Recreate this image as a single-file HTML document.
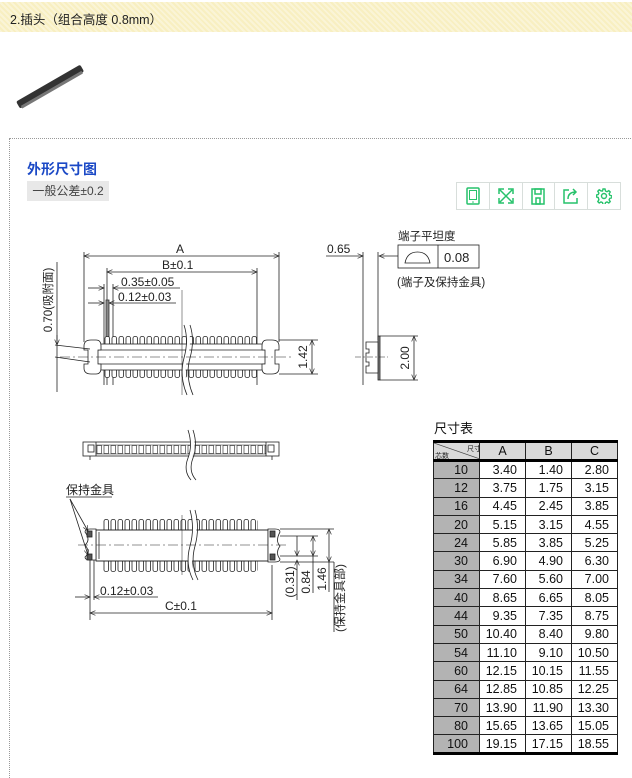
<!DOCTYPE html>
<html><head><meta charset="utf-8"><style>
*{margin:0;padding:0;box-sizing:border-box}
body{width:632px;height:761px;background:#fff;position:relative;overflow:hidden;font-family:"Liberation Sans","Noto Sans CJK SC",sans-serif}
.hdr{position:absolute;left:0;top:2px;width:632px;height:30px;background:#f8efc1;background-image:repeating-linear-gradient(45deg,rgba(255,255,255,.35) 0 2px,transparent 2px 4px)}
.hdr span{position:absolute;left:10px;top:7px;font-size:12.5px;color:#222}
.box{position:absolute;left:9px;top:138px;width:640px;height:640px;border-top:1px dotted #999;border-left:1px dotted #999}
.t1{position:absolute;left:27px;top:159px;font-size:14px;font-weight:bold;color:#1b49c6}
.tol{position:absolute;left:27px;top:181px;width:82px;height:20px;background:#e8e8e8;font-size:12px;color:#444;text-align:center;line-height:20px}
.icons{position:absolute;left:456px;top:182px;width:165px;height:28px;border:1px solid #d8dedb;display:flex}
.icons div{flex:1;border-right:1px solid #d8dedb;display:flex;align-items:center;justify-content:center}
.icons div:last-child{border-right:none}
.tt{position:absolute;left:434px;top:418px;font-size:13px;color:#111}
table{position:absolute;left:433px;top:440px;border-collapse:collapse;font-size:12.5px;font-family:"Liberation Sans","Noto Sans CJK SC",sans-serif}
td{height:18.3px;border:1px solid #222;text-align:right;padding-right:8px;width:46px;color:#111;line-height:16px}
td.k{background:#b3b3b3;width:46px;padding-right:11px}
tr.h td{background:#d9d9d9;text-align:center;padding:0;height:19px;border-top:3px solid #000;border-bottom:3px solid #000}
tr:last-child td{border-bottom:3px solid #000}
</style></head><body>
<div class="hdr"><span>2.插头（组合高度 0.8mm）</span></div>
<svg style="position:absolute;left:12px;top:62px" width="75" height="55"><g transform="rotate(-30 36 27)"><rect x="2" y="22" width="74" height="8" rx="2" fill="#333"/><rect x="4" y="28" width="70" height="3" fill="#777"/></g></svg>
<div class="box"></div>
<div class="t1">外形尺寸图</div>
<div class="tol">一般公差±0.2</div>
<div class="icons">
<div><svg width="14" height="18"><rect x="1" y="1" width="12" height="16" rx="1" fill="none" stroke="#27c26b" stroke-width="1.5"/><rect x="3.5" y="3.5" width="7" height="9" fill="none" stroke="#27c26b"/><circle cx="7" cy="15" r=".8" fill="#27c26b"/></svg></div>
<div><svg width="16" height="16" stroke="#27c26b" stroke-width="1.5" fill="none"><path d="M2 2L14 14M14 2L2 14M1 6V1H6M10 1H15V6M15 10V15H10M6 15H1V10"/></svg></div>
<div><svg width="14" height="17" stroke="#27c26b" stroke-width="1.5" fill="none"><rect x="1" y="1" width="12" height="15"/><rect x="4" y="1" width="6" height="5"/><rect x="5" y="10" width="4" height="6"/></svg></div>
<div><svg width="16" height="16" stroke="#27c26b" stroke-width="1.5" fill="none"><path d="M6 2H1V15H14V10M5 11C5 6 8 4 13 4M10 1L13 4L10 7"/></svg></div>
<div><svg width="16" height="16" stroke="#27c26b" stroke-width="1.4" fill="none"><circle cx="8" cy="8" r="2.5"/><path d="M7 1h2l.5 2 1.5.7 1.8-1.1 1.4 1.4-1.1 1.8.7 1.5 2 .5v2l-2 .5-.7 1.5 1.1 1.8-1.4 1.4-1.8-1.1-1.5.7-.5 2H7l-.5-2-1.5-.7-1.8 1.1-1.4-1.4 1.1-1.8L2.2 9.5 .5 9V7l1.7-.5.7-1.5-1.1-1.8 1.4-1.4 1.8 1.1L6.5 3z"/></svg></div>
</div>

<svg style="position:absolute;left:0;top:0" width="632" height="761" font-family="Liberation Sans,Noto Sans CJK SC,sans-serif" font-size="12" fill="none" stroke="#222" stroke-width="0.8">
<defs>
<marker id="ar" markerWidth="8" markerHeight="6" refX="7" refY="3" orient="auto-start-reverse"><path d="M0 0L7 3L0 6" stroke="#222" stroke-width=".8" fill="none"/></marker>
<pattern id="pT1" x="104" y="336" width="7" height="14" patternUnits="userSpaceOnUse"><rect x="1" y="0.5" width="4.5" height="20" rx="1.8" fill="#fff" stroke="#222" stroke-width=".8"/></pattern>
<pattern id="pB1" x="104" y="366" width="7" height="12" patternUnits="userSpaceOnUse"><rect x="1" y="-10" width="4.5" height="21.5" rx="1.8" fill="#fff" stroke="#222" stroke-width=".8"/></pattern>
<pattern id="pT2" x="103" y="519" width="7" height="14" patternUnits="userSpaceOnUse"><rect x="1" y="0.5" width="4.5" height="20" rx="1.8" fill="#fff" stroke="#222" stroke-width=".8"/></pattern>
<pattern id="pB2" x="103" y="560" width="7" height="12" patternUnits="userSpaceOnUse"><rect x="1" y="-10" width="4.5" height="21.5" rx="1.8" fill="#fff" stroke="#222" stroke-width=".8"/></pattern>
<pattern id="pS" x="96" y="445" width="7" height="9" patternUnits="userSpaceOnUse"><rect x="1" y="0.5" width="4.5" height="8" fill="#fff" stroke="#222" stroke-width=".6"/></pattern>
</defs>
<!-- top view -->
<g>
<line x1="84" y1="256" x2="279" y2="256" marker-start="url(#ar)" marker-end="url(#ar)"/>
<line x1="107" y1="272" x2="257" y2="272" marker-start="url(#ar)" marker-end="url(#ar)"/>
<line x1="88" y1="288" x2="104" y2="288" marker-end="url(#ar)"/><line x1="113" y1="288" x2="180" y2="288" marker-start="url(#ar)"/>
<line x1="88" y1="303" x2="104" y2="303" marker-end="url(#ar)"/><line x1="109" y1="303" x2="176" y2="303" marker-start="url(#ar)"/>
<line x1="84" y1="252" x2="84" y2="342"/><line x1="279" y1="252" x2="279" y2="342"/>
<line x1="107" y1="268" x2="107" y2="385"/><line x1="257" y1="268" x2="257" y2="385"/>
<line x1="104" y1="284" x2="104" y2="385"/><line x1="113" y1="284" x2="113" y2="385"/>
<rect x="106" y="300" width="3" height="42" fill="#888" stroke="#333"/>
<rect x="104" y="336" width="154" height="14" fill="url(#pT1)" stroke="none"/>
<rect x="104" y="366" width="154" height="12" fill="url(#pB1)" stroke="none"/>
<rect x="96" y="344" width="174" height="26" fill="#fff"/>
<line x1="96" y1="350" x2="270" y2="350"/><line x1="96" y1="364" x2="270" y2="364"/>
<path d="M84 346q0-6 7-6h5q5 0 5 6v4h-3v14h3v4q0 6-5 6h-5q-7 0-7-6v-4h4v-14h-4z" fill="#fff"/>
<path d="M279 346q0-6-7-6h-5q-5 0-5 6v4h3v14h-3v4q0 6 5 6h5q7 0 7-6v-4h-4v-14h4z" fill="#fff"/>
<path d="M186 325q5 15 0 33t3 37" stroke-width="3" stroke="#fff"/>
<path d="M184 325q5 15 0 33t3 37M190 325q5 15 0 33t3 37"/>
<line x1="182" y1="290" x2="182" y2="395" stroke-width=".5"/>
<line x1="60" y1="357" x2="292" y2="357" stroke-dasharray="10 3 2 3" stroke-width=".6"/>
<line x1="279" y1="340" x2="318" y2="340"/><line x1="279" y1="374" x2="318" y2="374"/>
<line x1="312" y1="340" x2="312" y2="374" marker-start="url(#ar)" marker-end="url(#ar)"/>
<line x1="57" y1="262" x2="57" y2="392"/>
<line x1="55" y1="345" x2="90" y2="349"/><line x1="55" y1="357" x2="90" y2="362"/>
<line x1="57" y1="335" x2="57" y2="345" marker-end="url(#ar)"/>
</g>
<g fill="#222" stroke="none">
<text x="176" y="253">A</text><text x="162" y="269">B±0.1</text>
<text x="121" y="286">0.35±0.05</text><text x="118" y="301">0.12±0.03</text>
<text transform="translate(307 357) rotate(-90)" text-anchor="middle">1.42</text>
<text transform="translate(52 300) rotate(-90)" text-anchor="middle" font-size="11.5">0.70(吸附面)</text>
<text x="327" y="253">0.65</text>
<text x="398" y="240" font-size="11.5">端子平坦度</text>
<text x="444" y="262" font-size="13">0.08</text>
<text x="397" y="286" font-size="11.5">(端子及保持金具)</text>
<text transform="translate(409 358) rotate(-90)" text-anchor="middle">2.00</text>
</g>
<!-- side view -->
<line x1="326" y1="256" x2="363" y2="256" marker-end="url(#ar)"/>
<line x1="398" y1="256" x2="379" y2="256" marker-end="url(#ar)"/>
<line x1="363" y1="252" x2="363" y2="385"/><line x1="378" y1="252" x2="378" y2="340"/>
<rect x="398" y="245" width="81" height="23"/><line x1="438" y1="245" x2="438" y2="268"/>
<path d="M405 263h25q-2-11-12.5-11t-12.5 11z"/>
<rect x="378" y="336" width="2" height="44" fill="#888"/>
<path d="M378 342h-12v7h3v4h-3v9h3v4h-3v7h12z" fill="#fff"/>
<line x1="355" y1="357" x2="388" y2="357" stroke-dasharray="6 2 2 2" stroke-width=".6"/>
<line x1="380" y1="336" x2="418" y2="336"/><line x1="380" y1="380" x2="418" y2="380"/>
<line x1="414" y1="336" x2="414" y2="380" marker-start="url(#ar)" marker-end="url(#ar)"/>
<!-- bottom side view -->
<rect x="83" y="442" width="196" height="14" fill="#fff"/>
<rect x="96" y="445" width="170" height="9" fill="url(#pS)" stroke-width=".5"/>
<line x1="96" y1="442" x2="96" y2="456"/><line x1="266" y1="442" x2="266" y2="456"/>
<rect x="88" y="445" width="6" height="7"/><rect x="268" y="445" width="6" height="7"/>
<line x1="90" y1="456" x2="90" y2="460"/><line x1="272" y1="456" x2="272" y2="460"/>
<path d="M190 430q5 15 0 28t3 22" stroke-width="4" stroke="#fff"/>
<path d="M188 430q5 15 0 28t3 22M193 430q5 15 0 28t3 22"/>
<!-- lower view -->
<rect x="103" y="519" width="155" height="14" fill="url(#pT2)" stroke="none"/>
<rect x="103" y="560" width="155" height="12" fill="url(#pB2)" stroke="none"/>
<rect x="96" y="530" width="172" height="31" fill="#fff"/>
<line x1="96" y1="530" x2="268" y2="530"/><line x1="96" y1="561" x2="268" y2="561"/>
<line x1="99" y1="532" x2="99" y2="559"/>
<path d="M85 532q0-3 5-3h6v31h-6q-5 0-5-3q6-5 0-12q6-5 0-13z" fill="#fff"/>
<path d="M280 532q0-3-5-3h-7v33h7q5 0 5-3q-5-6 0-13q-5-5 0-14z" fill="#fff"/>
<rect x="87" y="531" width="5" height="6" fill="#555"/><rect x="87" y="554" width="5" height="6" fill="#555"/>
<rect x="270" y="531" width="5" height="6" fill="#555"/><rect x="270" y="554" width="5" height="6" fill="#555"/>
<path d="M192 510q5 18 0 36t3 34" stroke-width="4" stroke="#fff"/>
<path d="M190 510q5 18 0 36t3 34M195 510q5 18 0 36t3 34"/>
<line x1="182" y1="515" x2="182" y2="575" stroke-width=".5"/>
<line x1="78" y1="545" x2="288" y2="545" stroke-dasharray="10 3 2 3" stroke-width=".6"/>
<line x1="66" y1="497" x2="112" y2="497"/>
<line x1="70" y1="499" x2="88" y2="531" marker-end="url(#ar)"/><line x1="70" y1="499" x2="88" y2="555" marker-end="url(#ar)"/>
<line x1="90" y1="560" x2="90" y2="620"/><line x1="94" y1="560" x2="94" y2="600"/>
<line x1="272" y1="565" x2="272" y2="620"/>
<line x1="75" y1="597" x2="90" y2="597" marker-end="url(#ar)"/><line x1="94" y1="597" x2="158" y2="597" marker-start="url(#ar)"/>
<line x1="90" y1="613" x2="272" y2="613" marker-start="url(#ar)" marker-end="url(#ar)"/>
<line x1="280" y1="529" x2="334" y2="529"/><line x1="280" y1="536" x2="318" y2="536"/>
<line x1="280" y1="556" x2="318" y2="556"/><line x1="280" y1="562" x2="334" y2="562"/>
<line x1="297" y1="536" x2="297" y2="556" marker-end="url(#ar)"/><line x1="297" y1="560" x2="297" y2="600" marker-start="url(#ar)"/>
<line x1="313" y1="536" x2="313" y2="556" marker-start="url(#ar)" marker-end="url(#ar)"/><line x1="313" y1="556" x2="313" y2="593"/>
<line x1="329" y1="529" x2="329" y2="562" marker-start="url(#ar)" marker-end="url(#ar)"/><line x1="329" y1="562" x2="329" y2="592"/>
<line x1="334" y1="562" x2="334" y2="632"/>
<g fill="#222" stroke="none">
<text x="66" y="494" font-size="12">保持金具</text>
<text x="100" y="595">0.12±0.03</text>
<text x="165" y="610">C±0.1</text>
<text transform="translate(294 582) rotate(-90)" text-anchor="middle">(0.31)</text>
<text transform="translate(310 582) rotate(-90)" text-anchor="middle">0.84</text>
<text transform="translate(326 579) rotate(-90)" text-anchor="middle">1.46</text>
<text transform="translate(344 598) rotate(-90)" text-anchor="middle" font-size="12">(保持金具部)</text>
</g>
</svg>

<div class="tt">尺寸表</div>
<table>
<tr class="h"><td class="k" style="background:#d9d9d9;position:relative;padding:0"><svg width="46" height="16" style="position:absolute;left:0;top:0"><line x1="0" y1="0" x2="46" y2="16" stroke="#444" stroke-width=".7"/><text x="33" y="8" font-size="7" fill="#222">尺寸</text><text x="1" y="15" font-size="7" fill="#222">芯数</text></svg></td><td>A</td><td>B</td><td>C</td></tr>
<tr><td class="k">10</td><td>3.40</td><td>1.40</td><td>2.80</td></tr>
<tr><td class="k">12</td><td>3.75</td><td>1.75</td><td>3.15</td></tr>
<tr><td class="k">16</td><td>4.45</td><td>2.45</td><td>3.85</td></tr>
<tr><td class="k">20</td><td>5.15</td><td>3.15</td><td>4.55</td></tr>
<tr><td class="k">24</td><td>5.85</td><td>3.85</td><td>5.25</td></tr>
<tr><td class="k">30</td><td>6.90</td><td>4.90</td><td>6.30</td></tr>
<tr><td class="k">34</td><td>7.60</td><td>5.60</td><td>7.00</td></tr>
<tr><td class="k">40</td><td>8.65</td><td>6.65</td><td>8.05</td></tr>
<tr><td class="k">44</td><td>9.35</td><td>7.35</td><td>8.75</td></tr>
<tr><td class="k">50</td><td>10.40</td><td>8.40</td><td>9.80</td></tr>
<tr><td class="k">54</td><td>11.10</td><td>9.10</td><td>10.50</td></tr>
<tr><td class="k">60</td><td>12.15</td><td>10.15</td><td>11.55</td></tr>
<tr><td class="k">64</td><td>12.85</td><td>10.85</td><td>12.25</td></tr>
<tr><td class="k">70</td><td>13.90</td><td>11.90</td><td>13.30</td></tr>
<tr><td class="k">80</td><td>15.65</td><td>13.65</td><td>15.05</td></tr>
<tr><td class="k">100</td><td>19.15</td><td>17.15</td><td>18.55</td></tr>
</table>
</body></html>
